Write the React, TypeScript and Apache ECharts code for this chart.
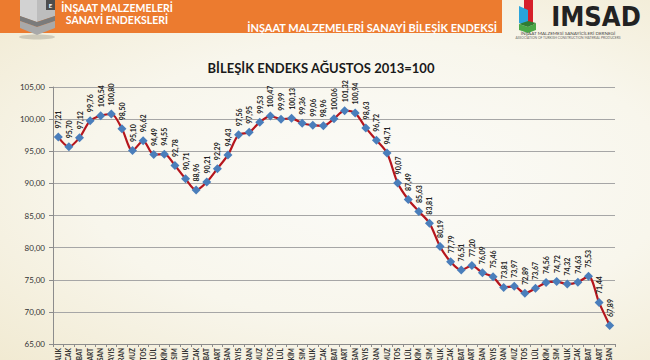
import React, { useEffect, useRef } from "react";
import * as echarts from "echarts";

const categories = [
  "ARALIK", "OCAK", "ŞUBAT", "MART", "NİSAN", "MAYIS", "HAZİRAN", "TEMMUZ", "AĞUSTOS", "EYLÜL", "EKİM", "KASIM",
  "ARALIK", "OCAK", "ŞUBAT", "MART", "NİSAN", "MAYIS", "HAZİRAN", "TEMMUZ", "AĞUSTOS", "EYLÜL", "EKİM", "KASIM",
  "ARALIK", "OCAK", "ŞUBAT", "MART", "NİSAN", "MAYIS", "HAZİRAN", "TEMMUZ", "AĞUSTOS", "EYLÜL", "EKİM", "KASIM",
  "ARALIK", "OCAK", "ŞUBAT", "MART", "NİSAN", "MAYIS", "HAZİRAN", "TEMMUZ", "AĞUSTOS", "EYLÜL", "EKİM", "KASIM",
  "ARALIK", "OCAK", "ŞUBAT", "MART", "NİSAN",
];

const indexValues = [
  97.21, 95.7, 97.12, 99.76, 100.54, 100.8, 98.5, 95.1, 96.62, 94.49, 94.55, 92.78,
  90.71, 88.96, 90.21, 92.29, 94.43, 97.56, 97.95, 99.53, 100.47, 99.99, 100.13, 99.36,
  99.06, 98.96, 100.06, 101.32, 100.94, 98.63, 96.72, 94.71, 90.07, 87.49, 85.63, 83.81,
  80.19, 77.79, 76.51, 77.2, 76.09, 75.46, 73.81, 73.97, 72.89, 73.67, 74.56, 74.72,
  74.32, 74.63, 75.53, 71.44, 67.89,
];

const yMin = 65;
const yMax = 105;
const yStep = 5;

const chartTitle = "BİLEŞİK ENDEKS AĞUSTOS 2013=100";
const bannerLine1 = "İNŞAAT MALZEMELERİ";
const bannerLine2 = "SANAYİ ENDEKSLERİ";
const bannerRight = "İNŞAAT MALZEMELERİ SANAYİ BİLEŞİK ENDEKSİ";
const logoText = "IMSAD";
const logoSub1 = "İNŞAAT MALZEMESİ SANAYİCİLERİ DERNEĞİ";
const logoSub2 = "ASSOCIATION OF TURKISH CONSTRUCTION MATERIAL PRODUCERS";

const fmt = (v: number) => v.toFixed(2).replace(".", ",");

export default function App() {
  const ref = useRef<HTMLDivElement>(null);

  useEffect(() => {
    document.body.style.margin = "0";
    const chart = echarts.init(ref.current!, null, { renderer: "svg", width: 650, height: 360 });
    const font = "Lato";
    chart.setOption({
      animation: false,
      backgroundColor: "transparent",
      grid: { left: 53, right: 35, top: 87, bottom: 16, containLabel: false, outerBoundsMode: "none" },
      xAxis: {
        type: "category",
        data: categories,
        boundaryGap: true,
        axisLine: { show: true, lineStyle: { color: "#8c8c8c", width: 1 } },
        axisTick: { show: true, length: 3, lineStyle: { color: "#8c8c8c" } },
        axisLabel: {
          rotate: 90,
          interval: 0,
          fontSize: 6.5,
          fontWeight: "bold",
          color: "#333",
          margin: 4,
          fontFamily: font,
        },
        splitLine: { show: false },
      },
      yAxis: {
        type: "value",
        min: yMin,
        max: yMax,
        interval: yStep,
        axisLine: { show: true, lineStyle: { color: "#8c8c8c", width: 1 } },
        axisTick: { show: true, length: 4, lineStyle: { color: "#8c8c8c" } },
        splitLine: { show: true, lineStyle: { color: "#a6a6a6", width: 1 } },
        axisLabel: {
          formatter: (v: number) => fmt(v),
          fontSize: 8,
          color: "#333",
          margin: 8,
          fontFamily: font,
        },
      },
      series: [
        {
          type: "line",
          data: indexValues,
          smooth: 0.3,
          symbol: "diamond",
          symbolSize: 9,
          lineStyle: { color: "#b5161d", width: 2.2 },
          itemStyle: { color: "#4a7ebb" },
          label: {
            show: true,
            position: "top",
            rotate: 90,
            align: "left",
            verticalAlign: "middle",
            distance: 4,
            fontSize: 7,
            fontWeight: "bold",
            color: "#222",
            fontFamily: font,
            formatter: (p: any) => fmt(p.value),
          },
          z: 3,
        },
      ],
      graphic: [
        { type: "rect", shape: { x: 0, y: 0, width: 502, height: 33 }, style: { fill: "#ec7b2f" }, z: 1 },
        // cube logo
        { type: "ellipse", shape: { cx: 37, cy: 37, rx: 18, ry: 2.5 }, style: { fill: "rgba(0,0,0,0.15)" }, z: 2 },
        { type: "polygon", shape: { points: [[20, 0], [55, 0], [55, 16], [37, 22], [20, 16]] }, style: { fill: "#bdbdbd" }, z: 3 },
        { type: "polygon", shape: { points: [[20, 0], [37, 0], [37, 22], [20, 16]] }, style: { fill: "#d2d2d2" }, z: 3 },
        { type: "polygon", shape: { points: [[20, 16], [37, 22], [55, 16], [55, 21], [37, 27], [20, 21]] }, style: { fill: "#7b7b7b" }, z: 3 },
        { type: "polygon", shape: { points: [[20, 21], [37, 27], [55, 21], [55, 28], [37, 35], [20, 28]] }, style: { fill: "#a9a9a9" }, z: 3 },
        { type: "rect", shape: { x: 46, y: 0, width: 9, height: 10 }, style: { fill: "#4d4d4d" }, z: 4 },
        { type: "text", x: 50.5, y: 5, style: { text: "E", fill: "#fff", fontSize: 6, fontWeight: "bold", fontFamily: font, align: "center", verticalAlign: "middle" }, z: 5 },
        // banner texts
        { type: "text", x: 117, y: 8, style: { text: bannerLine1, fill: "#fff", fontSize: 10.5, fontWeight: "bold", fontFamily: font, align: "center", verticalAlign: "middle" }, z: 5 },
        { type: "text", x: 117, y: 20, style: { text: bannerLine2, fill: "#fff", fontSize: 10.5, fontWeight: "bold", fontFamily: font, align: "center", verticalAlign: "middle" }, z: 5 },
        { type: "text", x: 497, y: 27, style: { text: bannerRight, fill: "#fff", fontSize: 11, fontWeight: "bold", fontFamily: font, align: "right", verticalAlign: "middle" }, z: 5 },
        // IMSAD logo
        { type: "rect", shape: { x: 524, y: 0, width: 9, height: 25 }, style: { fill: "#d6202a" }, z: 3 },
        { type: "polygon", shape: { points: [[519, 6], [528, 10], [528, 26], [519, 23]] }, style: { fill: "#2aa4dc" }, z: 4 },
        { type: "polygon", shape: { points: [[519, 24], [528, 27], [536, 23], [536, 30], [528, 33], [519, 30]] }, style: { fill: "#4aa846" }, z: 4 },
        { type: "polygon", shape: { points: [[519, 24], [528, 27], [536, 23], [528, 21]] }, style: { fill: "#2f7d33" }, z: 5 },
        { type: "text", x: 596, y: 16, style: { text: logoText, fill: "#222", fontSize: 27, fontWeight: "bold", fontFamily: "DejaVu Sans Condensed", align: "center", verticalAlign: "middle" }, z: 5 },
        { type: "text", x: 568, y: 33, style: { text: logoSub1, fill: "#444", fontSize: 4.6, fontFamily: font, align: "center", verticalAlign: "middle" }, z: 5 },
        { type: "text", x: 568, y: 37.5, style: { text: logoSub2, fill: "#666", fontSize: 3.3, fontFamily: font, align: "center", verticalAlign: "middle" }, z: 5 },
        // title
        { type: "text", x: 321, y: 68, style: { text: chartTitle, fill: "#1a1a1a", fontSize: 13, fontWeight: "bold", fontFamily: font, align: "center", verticalAlign: "middle" }, z: 5 },
      ],
    });
    return () => chart.dispose();
  }, []);

  return (
    <div
      ref={ref}
      style={{
        width: 650,
        height: 360,
        background: "radial-gradient(ellipse at 58% 50%, #fbfbf8 0%, #f8f6ec 55%, #f1ead2 100%)",
      }}
    />
  );
}
